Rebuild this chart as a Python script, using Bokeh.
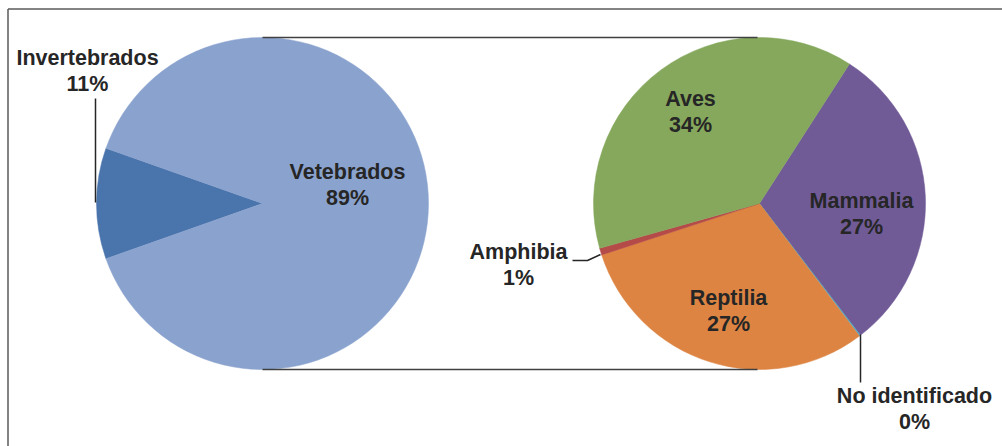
import math
from bokeh.plotting import figure
from bokeh.models import Range1d
from bokeh.core.properties import value
from bokeh.embed import file_html
from bokeh.resources import INLINE

# ---- data ----
main_names = ["Invertebrados", "Vetebrados"]
invert_value = 10.8
sub_names = ["Mammalia", "No identificado", "Reptilia", "Amphibia", "Aves"]
sub_values = [27.2, 0.1, 27.0, 0.6, 34.3]
vert_value = sum(sub_values)

main_colors = ["#4A74AC", "#8AA3CE"]
sub_colors = ["#705B97", "#4BACC6", "#DD8443", "#B44B48", "#85A85C"]

# ---- layout (pixel coordinates of the page) ----
W, H = 1002, 446
def Y(py):
    return H - py

p = figure(width=W, height=H, x_range=Range1d(0, W), y_range=Range1d(0, H),
           output_backend="svg", toolbar_location=None, min_border=0)
p.axis.visible = False
p.grid.visible = False
p.outline_line_color = None
p.background_fill_color = "white"
p.border_fill_color = "white"

font = value("Liberation Sans")
tc = "#262626"

# frame (top & left visible edges)
p.segment(x0=[7.5, 7.5], y0=[Y(8.5), Y(8.5)], x1=[W, 7.5], y1=[Y(8.5), 0],
          line_color="#5a5a5a", line_width=1.5)

# left pie
lcx, lcy, R = 262, Y(203), 166
total = invert_value + vert_value
inv_span = invert_value / total * 2 * math.pi
inv_start = math.pi - inv_span / 2
inv_end = math.pi + inv_span / 2
p.wedge(x=[lcx, lcx], y=[lcy, lcy], radius=R,
        start_angle=[inv_start, inv_end], end_angle=[inv_end, inv_start + 2 * math.pi],
        fill_color=main_colors, line_color=main_colors, line_width=0.5)

# right pie (clockwise from start angle)
rcx, rcy = 759, Y(203)
a = math.radians(57.2)
starts, ends = [], []
for v in sub_values:
    span = v / vert_value * 2 * math.pi
    starts.append(a - span)
    ends.append(a)
    a -= span
p.wedge(x=[rcx] * 5, y=[rcy] * 5, radius=R, start_angle=starts, end_angle=ends,
        fill_color=sub_colors, line_color=sub_colors, line_width=0.5)

# connector lines
p.segment(x0=[262, 262], y0=[Y(37), Y(369)], x1=[757, 757], y1=[Y(37), Y(369)],
          line_color="#404040", line_width=1.5)

# leader lines
p.line(x=[95, 95], y=[Y(98), Y(202)], line_color="#262626", line_width=1.5)
p.line(x=[572, 587, 600], y=[Y(260), Y(260), Y(254)], line_color="#262626", line_width=1.5)
p.line(x=[860, 860], y=[Y(334), Y(382)], line_color="#262626", line_width=1.5)

# labels
def pct(v):
    return f"{round(v / total * 100):d}%"

labels = [
    (main_names[0], pct(invert_value), 87, 57, 83),
    (main_names[1], pct(vert_value), 347, 171, 197),
    (sub_names[4], pct(sub_values[4]), 690, 98, 124),
    (sub_names[0], pct(sub_values[0]), 861, 200, 226),
    (sub_names[2], pct(sub_values[2]), 728, 297, 323),
    (sub_names[3], pct(sub_values[3]), 518, 251, 277),
    (sub_names[1], pct(sub_values[1]), 914, 395, 421),
]
xs, ys, txt = [], [], []
for name, pc, x, b1, b2 in labels:
    xs += [x, x]
    ys += [Y(b1), Y(b2)]
    txt += [name, pc]
p.text(x=xs, y=ys, text=txt, text_font=font, text_font_style="bold",
       text_font_size="21.5px", text_color=tc, text_align="center",
       text_baseline="middle")

open("out.html", "w").write(file_html(p, INLINE))
